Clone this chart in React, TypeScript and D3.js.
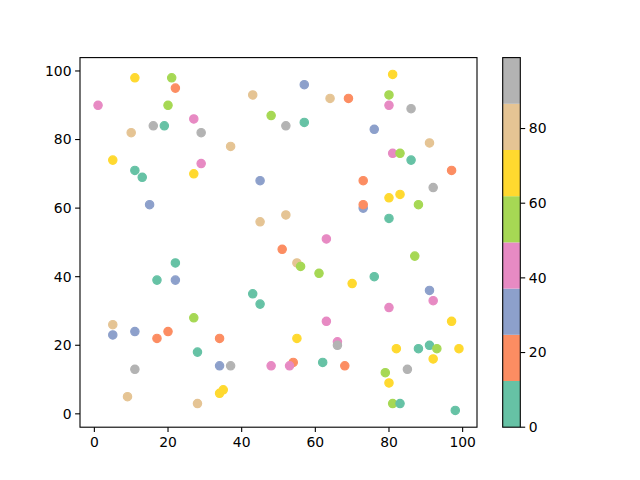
import * as d3 from 'd3';

const width = 640;
const height = 480;
const [mt, ml] = [57.6, 80];
const plotW = 397;
const plotH = 369.6;
const cbLeft = 502.7;
const cbW = 17.6;

// x / y positions of the 98 visible points
const xs = [
    11, 21, 22, 43, 1, 20, 48, 27, 16, 19, 10, 29, 37, 5, 29, 11, 13, 27, 45, 81,
    57, 64, 69, 80, 80, 86, 52, 57, 76, 91, 81, 83, 86, 97, 73, 92, 15, 45, 22, 17,
    22, 43, 45, 80, 83, 73, 73, 88, 52, 80, 63, 51, 55, 56, 61, 87, 76, 70, 91, 92,
    80, 27, 5, 5, 11, 17, 20, 34, 28, 34, 37, 48, 11, 9, 28, 34, 35, 97, 63, 55,
    66, 66, 54, 53, 62, 68, 82, 88, 91, 93, 99, 92, 79, 85, 80, 81, 83, 98
];
const ys = [
    98, 98, 95, 93, 90, 90, 87, 86, 84, 84, 82, 82, 78, 74, 73, 71, 69, 70, 68, 99,
    96, 92, 92, 93, 90, 89, 84, 85, 83, 79, 76, 76, 74, 71, 68, 66, 61, 56, 44, 39,
    39, 35, 32, 63, 64, 60, 61, 61, 58, 57, 51, 48, 44, 43, 41, 46, 40, 38, 36, 33,
    31, 28, 26, 23, 24, 22, 24, 22, 18, 14, 14, 14, 13, 5, 3, 6, 7, 27, 27, 22,
    21, 20, 15, 14, 15, 14, 19, 19, 20, 19, 19, 16, 12, 13, 9, 3, 3, 1
];
// colour values (estimated from the colour band)
const cs = [
    68, 56, 19, 80, 43, 56, 56, 43, 93, 6, 80, 93, 80, 68, 43, 6, 6, 68, 31, 68,
    31, 80, 19, 56, 43, 93, 93, 6, 31, 80, 43, 56, 6, 19, 19, 93, 31, 80, 6, 6,
    31, 6, 6, 68, 68, 31, 19, 56, 80, 6, 43, 19, 80, 56, 56, 56, 6, 68, 31, 43,
    43, 56, 80, 31, 31, 19, 19, 19, 6, 31, 93, 43, 93, 80, 80, 68, 68, 68, 43, 68,
    43, 93, 19, 43, 6, 19, 68, 6, 6, 56, 68, 68, 56, 93, 68, 56, 6, 6
];
const xTicks = [0, 20, 40, 60, 80, 100];
const yTicks = [0, 20, 40, 60, 80, 100];
const cTicks = [0, 20, 40, 60, 80];
const cMax = 99;

const font = 'DejaVu Sans, sans-serif';

export default function App() {
    const x = d3.scaleLinear().domain([-3.9, 103.9]).range([ml, ml + plotW]);
    const y = d3.scaleLinear().domain([-3.9, 103.9]).range([mt + plotH, mt]);
    const color = d3.scaleQuantize<string>().domain([0, cMax]).range(d3.schemeSet2 as string[]);
    const cy = d3.scaleLinear().domain([0, cMax]).range([mt + plotH, mt]);
    const bands = d3.range(8).map((i) => [(i * cMax) / 8, ((i + 1) * cMax) / 8]);

    return (
        <svg width={width} height={height} style={{ position: 'absolute', left: 0, top: 0, background: '#fff' }} fontFamily={font} fontSize={13.9}>
            {xs.map((d, i) => (
                <circle key={i} cx={x(d)} cy={y(ys[i])} r={4.17} fill={color(cs[i])} stroke={color(cs[i])} strokeWidth={1.2} />
            ))}
            <rect x={ml} y={mt} width={plotW} height={plotH} fill="none" stroke="#000" strokeWidth={1.1} />
            {xTicks.map((t) => (
                <g key={t} transform={`translate(${x(t)},${mt + plotH})`}>
                    <line y2={4.9} stroke="#000" strokeWidth={1.1} />
                    <text y={20} textAnchor="middle">{t}</text>
                </g>
            ))}
            {yTicks.map((t) => (
                <g key={t} transform={`translate(${ml},${y(t)})`}>
                    <line x2={-4.9} stroke="#000" strokeWidth={1.1} />
                    <text x={-8.5} dy="0.35em" textAnchor="end">{t}</text>
                </g>
            ))}
            {bands.map(([a, b], i) => (
                <rect key={i} x={cbLeft} y={cy(b)} width={cbW} height={cy(a) - cy(b)} fill={color((a + b) / 2)} />
            ))}
            <rect x={cbLeft} y={mt} width={cbW} height={plotH} fill="none" stroke="#000" strokeWidth={1.1} />
            {cTicks.map((t) => (
                <g key={t} transform={`translate(${cbLeft + cbW},${cy(t)})`}>
                    <line x2={4.9} stroke="#000" strokeWidth={1.1} />
                    <text x={8.5} dy="0.35em">{t}</text>
                </g>
            ))}
        </svg>
    );
}
